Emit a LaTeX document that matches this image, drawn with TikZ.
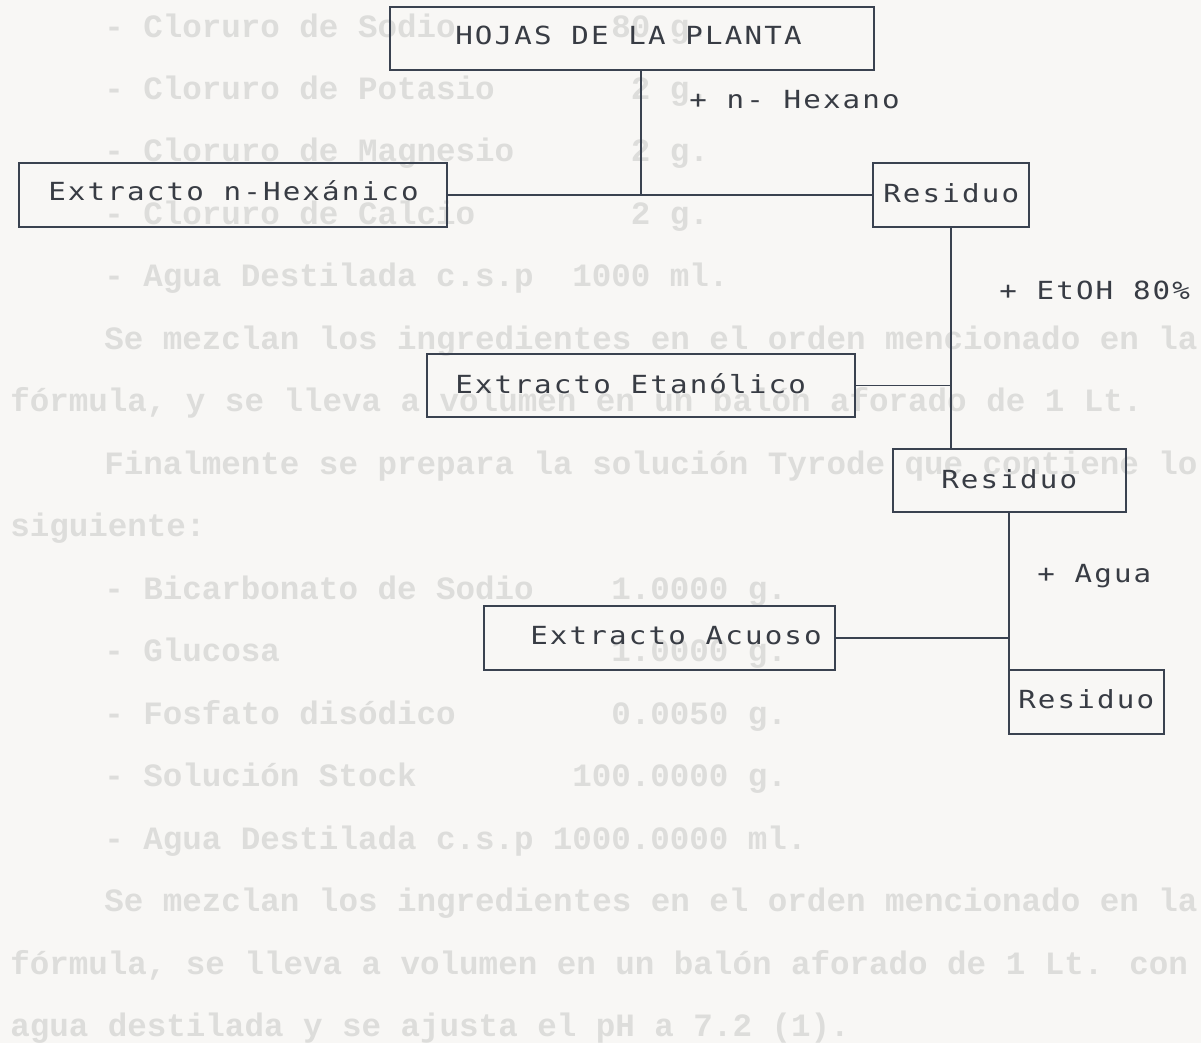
\documentclass[tikz,border=0pt]{standalone}
\usepackage{fontspec}
\usepackage{graphicx}
\newfontfamily\dmfont[LetterSpace=7.4]{DejaVu Sans Mono}
\newfontfamily\bgfont{Liberation Mono}
\definecolor{paper}{RGB}{248,247,245}
\definecolor{ink}{RGB}{58,66,80}
\definecolor{textink}{RGB}{56,60,68}
\definecolor{faint}{RGB}{221,221,219}
\newcommand\dtext[1]{\scalebox{1.17}[1]{\dmfont\fontsize{18.7pt}{20pt}\selectfont #1}}
\begin{document}
\begin{tikzpicture}[x=0.75pt,y=-0.75pt,
  bgt/.style={font=\bgfont\bfseries\fontsize{24.4pt}{26pt}\selectfont, text=faint, anchor=base west, inner sep=0pt},
  lbl/.style={anchor=base west, inner sep=0pt, text=textink},
  box/.style={draw=ink, line width=1.4pt, inner sep=0pt, outer sep=0pt, anchor=north west},
  conn/.style={draw=ink, line width=1.2pt},
  bw/.style={minimum width=#1*0.75pt},
  bh/.style={minimum height=#1*0.75pt}]
\fill[paper] (0,0) rectangle (1201,1043);
\useasboundingbox (0,0) rectangle (1201,1043);

% faint page text behind the diagram
\node[bgt] (bg0)  at (104,37)    {- Cloruro de Sodio};
\node[bgt] (bg0a) at (611,37)    {80 g.};
\node[bgt] (bg1)  at (104,99)    {- Cloruro de Potasio};
\node[bgt] (bg1a) at (630.5,99)  {2 g.};
\node[bgt] (bg2)  at (104,161.5) {- Cloruro de Magnesio};
\node[bgt] (bg2a) at (630.5,161.5) {2 g.};
\node[bgt] (bg3)  at (104,224)   {- Cloruro de Calcio};
\node[bgt] (bg3a) at (630.5,224) {2 g.};
\node[bgt] (bg4)  at (104,286.5) {- Agua Destilada c.s.p};
\node[bgt] (bg4a) at (572,286.5) {1000 ml.};
\node[bgt] (bg5)  at (104,349)   {Se mezclan los ingredientes en el orden mencionado en la};
\node[bgt] (bg6)  at (10,411.5)  {fórmula, y se lleva a volumen en un balón aforado de 1 Lt.};
\node[bgt] (bg7)  at (104,474)   {Finalmente se prepara la solución Tyrode que contiene lo};
\node[bgt] (bg8)  at (10,536.5)  {siguiente:};
\node[bgt] (bg9)  at (104,599)   {- Bicarbonato de Sodio};
\node[bgt] (bg9a) at (611,599)   {1.0000 g.};
\node[bgt] (bg10) at (104,661.5) {- Glucosa};
\node[bgt] (bg10a) at (611,661.5) {1.0000 g.};
\node[bgt] (bg11) at (104,724)   {- Fosfato disódico};
\node[bgt] (bg11a) at (611,724)  {0.0050 g.};
\node[bgt] (bg12) at (104,786.5) {- Solución Stock};
\node[bgt] (bg12a) at (572,786.5) {100.0000 g.};
\node[bgt] (bg13) at (104,849)   {- Agua Destilada c.s.p};
\node[bgt] (bg13a) at (552.5,849) {1000.0000 ml.};
\node[bgt] (bg14) at (104,911.5) {Se mezclan los ingredientes en el orden mencionado en la};
\node[bgt] (bg15) at (10,974)    {fórmula, se lleva a volumen en un balón aforado de 1 Lt. con};
\node[bgt] (bg16) at (10,1036.5) {agua destilada y se ajusta el pH a 7.2 (1).};

% boxes
\node[box, bw=484, bh=63] (hojas) at (390,7)   {};
\node[box, bw=428, bh=64] (hex)   at (19,163)  {};
\node[box, bw=156, bh=64] (res1)  at (873,163) {};
\node[box, bw=428, bh=63] (etan)  at (427,354) {};
\node[box, bw=233, bh=63] (res2)  at (893,449) {};
\node[box, bw=351, bh=64] (acu)   at (484,606) {};
\node[box, bw=155, bh=64] (res3)  at (1009,670) {};

% box texts
\node[lbl] (hojasT) at (455,44)  {\dtext{HOJAS DE LA PLANTA}};
\node[lbl] (hexT)   at (48,200)  {\dtext{Extracto n-Hexánico}};
\node[lbl] (res1T)  at (883,202) {\dtext{Residuo}};
\node[lbl] (etanT)  at (455,393) {\dtext{Extracto Etanólico}};
\node[lbl] (res2T)  at (941,488) {\dtext{Residuo}};
\node[lbl] (acuT)   at (530,644) {\dtext{Extracto Acuoso}};
\node[lbl] (res3T)  at (1018,708) {\dtext{Residuo}};

% reagent labels
\node[lbl] (hexano) at (689,108)  {\dtext{+ n- Hexano}};
\node[lbl] (etoh)   at (999,299)  {\dtext{+ EtOH 80\%}};
\node[lbl] (agua)   at (1037,582) {\dtext{+ Agua}};

% connectors
\coordinate (j1) at (641,195);
\draw[conn] (hojas.south -| j1) -- (j1);
\draw[conn] (hex.east) -- (res1.west);
\draw[conn] (res1.south) -- (res1.south |- res2.north);
\draw[conn] (etan.east) -- (etan.east -| res1.south);
\draw[conn] (res3.north west |- res2.south) -- (res3.north west);
\draw[conn] (acu.east) -- (acu.east -| res3.north west);
\end{tikzpicture}
\end{document}
